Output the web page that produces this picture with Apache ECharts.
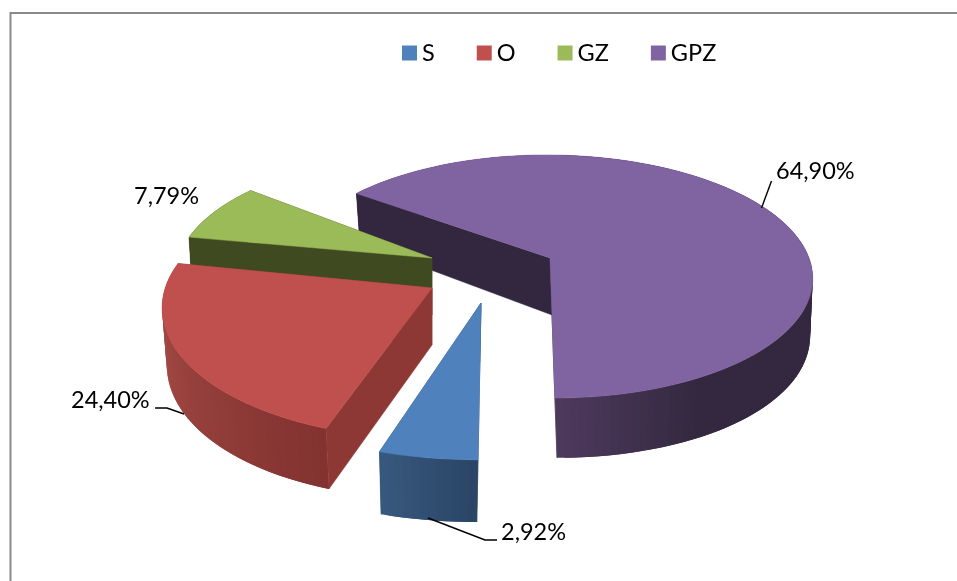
<!DOCTYPE html>
<html>
<head>
<meta charset="utf-8">
<style>html,body{margin:0;padding:0;background:#fff}#c{width:957px;height:581px}</style>
<script src="https://cdn.jsdelivr.net/npm/echarts@6/dist/echarts.min.js"></script>
</head>
<body>
<div id="c"></div>
<script>
// Data
const categories = ['S', 'O', 'GZ', 'GPZ'];
// Percentages as printed on the chart
const printedLabels = ['2,92%', '24,40%', '7,79%', '64,90%'];
// Slice shares (%) as measured from the angles actually drawn in the picture
const sliceShares = [4.7, 22.61, 7.79, 64.9];

// Styling
const topColors = ['#4f81bd', '#c0504d', '#9bbb59', '#8064a2'];
const sideColors = ['#2f5071', '#8e3835', '#404a20', '#33273f'];
// [angle where wall colour starts, angle where it ends, colour A, colour B]
const wallShade = [
  [197, 180, [56, 90, 128], [43, 69, 102]],
  [262, 199, [165, 75, 70], [130, 50, 48]],
  [300, 280, [64, 74, 32], [64, 74, 32]],
  [180, 150, [78, 58, 94], [51, 40, 63]]
];
// Layout of each exploded slice: apex, scale, skew, wall height, small perspective turn
const layout = [
  { ax: 481, ay: 303, sx: 1.12, sy: 1.12, skew: -0.019, depth: 59, turn: 0 },
  { ax: 432, ay: 288, sx: 1.03, sy: 1.08, skew: 0, depth: 57, turn: 3 },
  { ax: 432, ay: 258, sx: 0.98, sy: 1.0, skew: 0, depth: 57, turn: 2.1 },
  { ax: 550, ay: 258, sx: 1.0, sy: 1.0, skew: 0.035, depth: 57, turn: 0 }
];
const labelLayout = [
  { x: 501, y: 532, line: [[428, 518], [485, 540], [497, 540]] },
  { x: 71, y: 400, line: [[155, 408], [167, 408], [184, 414]] },
  { x: 134, y: 196, line: null },
  { x: 776, y: 171, line: [[771.5, 181], [761.5, 208]] }
];
const FONT = 'Lato';
const START_ANGLE = 180;

function project(s, deg, bottom) {
  const t = deg * Math.PI / 180;
  const u = Math.sin(t), v = -Math.cos(t);
  let x, y;
  if (!bottom) {
    const d = 1 - 0.152 * v;
    x = s.sx * 259 * u / d;
    y = s.sy * 118.7 * v / d;
  } else {
    x = s.sx * 255 * u / (1 - 0.14 * v);
    y = s.depth + s.sy * 128 * v / (1 - 0.104 * v);
  }
  return [s.ax + x + s.skew * y, s.ay + y];
}
function apex(s, bottom) {
  const y = bottom ? s.depth : 0;
  return [s.ax + s.skew * y, s.ay + y];
}
function mix(a, b, t) {
  t = Math.max(0, Math.min(1, t));
  return 'rgb(' + a.map((c, i) => Math.round(c + (b[i] - c) * t)).join(',') + ')';
}

function renderSlice(params, api) {
  const idx = params.seriesIndex;
  const share = api.value(0);
  const prev = sliceShares.slice(0, idx).reduce((p, c) => p + c, 0);
  const s = layout[idx];
  const a0 = START_ANGLE + prev * 3.6 + s.turn;
  const a1 = a0 + share * 3.6;
  const children = [];
  const poly = (points, color, stroke) => children.push({
    type: 'polygon', shape: { points },
    style: stroke ? { fill: color, stroke: color, lineWidth: 0.5 } : { fill: color }
  });
  // far inner wall
  poly([apex(s), project(s, a1), project(s, a1, true), apex(s, true)], sideColors[idx], true);
  // outer wall as narrow shaded strips, each overlapping the next to hide seams
  const shade = wallShade[idx];
  const n = Math.max(4, Math.ceil((a1 - a0) / 1.5));
  const step = (a1 - a0) / n;
  for (let i = n - 1; i >= 0; i--) {
    const d0 = a0 + step * i, d1 = d0 + step;
    const d00 = Math.max(a0, d0 - step);
    const norm = ((d0 % 360) + 360) % 360;
    const t = (norm - shade[0]) / (shade[1] - shade[0]);
    poly([project(s, d00), project(s, d1), project(s, d1, true), project(s, d00, true)],
      mix(shade[2], shade[3], t));
  }
  // near inner wall
  poly([apex(s), project(s, a0), project(s, a0, true), apex(s, true)], sideColors[idx], true);
  // top face
  const top = [apex(s)];
  for (let i = 0; i <= n; i++) top.push(project(s, a0 + step * i));
  poly(top, topColors[idx], true);
  // data label
  const lab = labelLayout[idx];
  if (lab.line) children.push({
    type: 'polyline', shape: { points: lab.line },
    style: { fill: 'none', stroke: '#000', lineWidth: 1.4 }
  });
  children.push({
    type: 'text',
    style: { x: lab.x, y: lab.y, text: printedLabels[idx], fill: '#000',
      font: '23.5px ' + FONT, verticalAlign: 'middle', align: 'left' }
  });
  return { type: 'group', children };
}

const chart = echarts.init(document.getElementById('c'), null, { renderer: 'canvas' });
chart.setOption({
  animation: false,
  backgroundColor: '#fff',
  legend: {
    data: categories,
    left: 397, top: 36,
    icon: 'rect', itemWidth: 15, itemHeight: 15, itemGap: 42,
    textStyle: { fontFamily: FONT, fontSize: 23.5, color: '#000', padding: [0, 0, 0, 0] }
  },
  graphic: [{
    type: 'polyline', silent: true, z: 0,
    shape: { points: [[10.5, 581], [10.5, 13], [957, 13]] },
    style: { fill: 'none', stroke: '#898989', lineWidth: 2 }
  }],
  series: categories.map((name, i) => ({
    type: 'custom', name, coordinateSystem: 'none',
    z: 5 - i, silent: true,
    itemStyle: { color: topColors[i] },
    renderItem: renderSlice,
    data: [[sliceShares[i]]]
  }))
});
</script>
</body>
</html>
